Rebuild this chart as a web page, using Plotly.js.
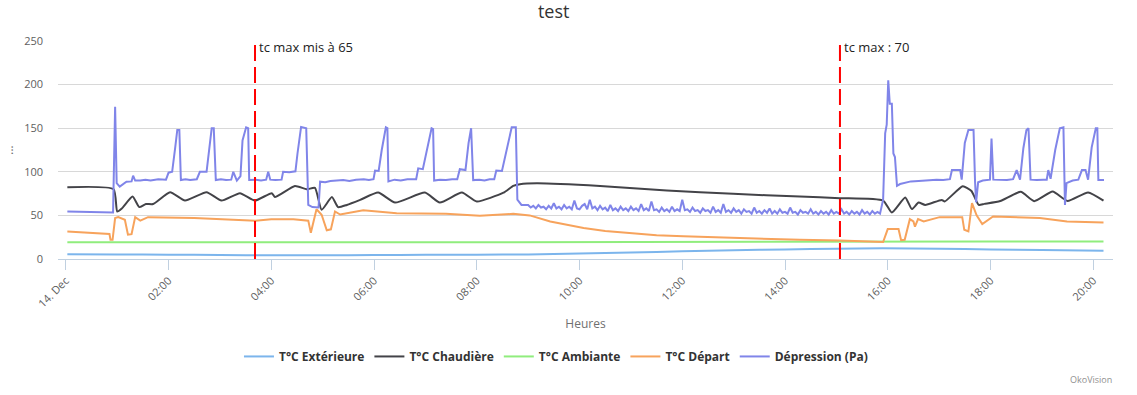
<!DOCTYPE html>
<html><head><meta charset="utf-8">
<script src="https://cdn.plot.ly/plotly-3.0.1.min.js"></script>
<style>html,body{margin:0;padding:0;background:#fff}#chart{width:1137px;height:395px}</style>
</head><body><div id="chart"></div>
<script>
// ---- axis ticks ----
const tickHours = [0, 2, 4, 6, 8, 10, 12, 14, 16, 18, 20];
const tickLabels = ["14. Dec", "02:00", "04:00", "06:00", "08:00", "10:00", "12:00", "14:00", "16:00", "18:00", "20:00"];
const yTicks = [0, 50, 100, 150, 200, 250];

// ---- series names / colours ----
const seriesNames = ["T°C Extérieure", "T°C Chaudière", "T°C Ambiante", "T°C Départ", "Dépression (Pa)"];
const seriesColors = ["#7cb5ec", "#434348", "#90ed7d", "#f7a35c", "#8085e9"];

// ---- T°C Extérieure ----
const exterieureHours = [0.03, 1, 2, 3, 4, 5, 6, 7, 8, 9, 10, 11, 12, 13, 14, 15, 15.9, 17, 18, 19, 20.2];
const exterieureValues = [5.5, 5.2, 5, 4.6, 4.3, 4.3, 4.5, 4.8, 5, 5.3, 6.3, 7.5, 8.8, 10, 11, 11.8, 12.3, 11.8, 11, 10.2, 9.6];

// ---- T°C Chaudière ----
const chaudiereHours = [0.03, 0.93, 1.00, 1.09, 1.30, 1.43, 1.56, 1.70, 2.03, 2.32, 2.74, 3.03, 3.39, 3.68, 4.01, 4.07, 4.46, 4.69, 4.85, 4.98, 5.18, 5.30, 5.47, 5.73, 6.08, 6.41, 6.99, 7.28, 7.71, 8.00, 8.52, 8.71, 8.84, 9.17, 10.40, 11.70, 12.99, 14.29, 15.07, 15.91, 16.08, 16.34, 16.47, 16.60, 16.73, 17.05, 17.11, 17.46, 17.63, 17.77, 17.88, 18.19, 18.59, 18.85, 19.21, 19.50, 19.90, 20.20];
const chaudiereValues = [82.3, 80, 54.5, 58, 71.6, 59.5, 63, 63, 76.6, 67, 76.6, 67, 75.5, 67, 75.5, 71, 83.8, 80, 81.5, 56.4, 71, 59.5, 62, 67.8, 76.2, 64.7, 76.2, 64.7, 76.2, 65.9, 76, 83.8, 85.8, 86.9, 83.8, 78.5, 74.7, 71.6, 69.8, 67, 53.3, 70.5, 57.2, 64.7, 62, 67.8, 66, 83.4, 78, 62, 63.2, 66.5, 77, 66.3, 77.3, 66.5, 76.4, 67];

// ---- T°C Ambiante ----
const ambianteHours = [0.03, 2, 4, 6, 8, 10, 12, 14, 16, 18, 20.2];
const ambianteValues = [19.3, 19, 19, 19.2, 19.3, 19.3, 19.5, 19.7, 19.8, 20, 20.2];

// ---- T°C Départ ----
const departHours = [0.03, 0.85, 0.87, 0.91, 0.96, 1.02, 1.15, 1.21, 1.28, 1.35, 1.45, 1.60, 2.50, 3.00, 3.69, 4.00, 4.43, 4.72, 4.77, 4.88, 4.98, 5.08, 5.16, 5.24, 5.34, 5.79, 6.44, 7.40, 8.06, 8.71, 9.03, 9.43, 9.75, 10.08, 10.5, 11.05, 11.5, 12.02, 13.00, 13.6, 14.29, 15.07, 15.91, 16.00, 16.21, 16.26, 16.33, 16.43, 16.50, 16.53, 16.59, 16.70, 17.01, 17.45, 17.49, 17.57, 17.64, 17.73, 17.84, 18.05, 18.96, 19.49, 20.20];
const departValues = [31.6, 28.6, 22, 22, 47, 48, 45, 28, 28.5, 48, 44, 48, 47, 46, 44, 45.5, 45.7, 44, 30, 57, 50.7, 33, 34, 54.5, 51, 56, 52.6, 51.8, 49.5, 51.8, 50, 43, 39, 35.5, 32, 29, 27.3, 26, 24, 23, 22, 21.3, 19.5, 34.3, 34.3, 21.5, 22, 45.7, 43, 37, 45.7, 43, 48, 48, 33.5, 31.6, 64, 50, 40, 48.7, 46.9, 43, 42];

// ---- Dépression (Pa) ----
const depressionHours = [
  0.03, 0.5, 0.92, 0.96, 0.99, 1.05, 1.10, 1.18, 1.28, 1.31, 1.35, 1.45, 1.55, 1.65, 1.80, 1.95,
  2.00, 2.07, 2.13, 2.17, 2.21, 2.24, 2.33, 2.42, 2.55, 2.61, 2.74, 2.80, 2.84, 2.88, 2.92,
  3.02, 3.12, 3.22, 3.26, 3.33, 3.40, 3.44, 3.51, 3.55, 3.57, 3.70, 3.80, 3.90, 3.94, 3.98,
  4.08, 4.20, 4.23, 4.35, 4.47, 4.51, 4.58, 4.68, 4.72, 4.80, 4.92, 4.95,
  5.05, 5.15, 5.28, 5.40, 5.52, 5.65, 5.80, 5.90, 5.99, 6.02, 6.09, 6.15, 6.23, 6.26, 6.28,
  6.40, 6.52, 6.65, 6.82, 6.86, 6.95, 7.03, 7.12, 7.15, 7.17, 7.28, 7.40, 7.52, 7.62, 7.67, 7.78, 7.84, 7.89, 7.93,
  8.05, 8.15, 8.25, 8.34, 8.38, 8.49, 8.58, 8.68, 8.76, 8.79, 8.87,
  9.00, 9.05, 9.10, 9.15, 9.20, 9.25, 9.30, 9.35, 9.40, 9.45, 9.50, 9.55, 9.60, 9.65, 9.70, 9.75, 9.80, 9.85, 9.90, 9.95,
  10.00, 10.05, 10.10, 10.15, 10.20, 10.25, 10.30, 10.35, 10.40, 10.45, 10.50, 10.55, 10.60, 10.65, 10.70, 10.75, 10.80, 10.85, 10.90, 10.95,
  11.00, 11.05, 11.10, 11.15, 11.20, 11.25, 11.30, 11.35, 11.40, 11.45, 11.50, 11.55, 11.60, 11.65, 11.70, 11.75, 11.80, 11.85, 11.90, 11.95,
  12.00, 12.05, 12.10, 12.15, 12.20, 12.25, 12.30, 12.35, 12.40, 12.45, 12.50, 12.55, 12.60, 12.65, 12.70, 12.75, 12.80, 12.85, 12.90, 12.95,
  13.00, 13.05, 13.10, 13.15, 13.20, 13.25, 13.30, 13.35, 13.40, 13.45, 13.50, 13.55, 13.60, 13.65, 13.70, 13.75, 13.80, 13.85, 13.90, 13.95,
  14.00, 14.05, 14.10, 14.15, 14.20, 14.25, 14.30, 14.35, 14.40, 14.45, 14.50, 14.55, 14.60, 14.65, 14.70, 14.75, 14.80, 14.85, 14.90, 14.95,
  15.00, 15.05, 15.10, 15.15, 15.20, 15.25, 15.30, 15.35, 15.40, 15.45, 15.50, 15.55, 15.60, 15.65, 15.70, 15.75, 15.80, 15.85,
  15.91, 15.95, 15.98, 16.01, 16.04, 16.08, 16.11, 16.14, 16.18, 16.24, 16.30, 16.45, 16.60, 16.80, 16.95, 17.08, 17.21,
  17.25, 17.41, 17.44, 17.50, 17.57, 17.67, 17.70, 17.72, 17.76, 17.85, 17.99, 18.02, 18.055, 18.20, 18.32, 18.44,
  18.51, 18.575, 18.64, 18.70, 18.74, 18.78, 18.90, 19.03, 19.095, 19.125, 19.17, 19.26, 19.35, 19.42, 19.45, 19.48,
  19.60, 19.71, 19.78, 19.85, 19.90, 19.97, 20.05, 20.08, 20.10, 20.21
];
const depressionValues = [
  54.5, 54, 53.3, 174.5, 87, 83, 85, 88.7, 89, 95.5, 89.9, 90, 91, 90, 91.5, 91,
  99, 100, 128, 148, 148, 90.5, 91.5, 90.5, 91.5, 100, 100, 130, 150, 150, 90.5,
  91.5, 90.5, 91, 100, 90, 95, 136, 151, 150, 90.7, 91, 90, 91, 100, 91,
  90.5, 91, 100, 99.5, 100.5, 121, 151.5, 150, 62, 59.5, 59, 88.7,
  88, 89.5, 90, 90.5, 89.5, 91, 91.5, 90.5, 91.5, 101.4, 101, 125, 151, 150, 89,
  91, 90, 91.5, 91.5, 104, 103, 125, 150, 149, 90, 91, 90.5, 91.5, 91.5, 103, 102, 133, 150, 90.5,
  91, 90, 91.5, 91.5, 101.4, 101, 125, 151, 151, 68, 62,
  62, 59, 61, 58, 62, 59, 60, 57, 61, 58, 64, 58, 60, 57, 62, 58, 60, 57, 67, 58,
  57, 61, 63, 57, 68, 58, 60, 56, 61, 57, 59, 55, 62, 56, 58, 55, 60, 56, 58, 55,
  60, 56, 58, 55, 63, 56, 58, 55, 66, 56, 57, 54, 59, 55, 57, 54, 60, 55, 57, 55,
  68, 56, 57, 54, 59, 55, 56, 53, 58, 55, 56, 53, 60, 54, 56, 53, 63, 54, 56, 53,
  58, 54, 56, 52, 57, 54, 55, 52, 59, 53, 55, 52, 56, 53, 58, 52, 55, 52, 57, 53,
  54, 52, 59, 53, 54, 51, 56, 53, 54, 52, 57, 52, 54, 51, 55, 52, 54, 51, 56, 52,
  54, 52, 57, 52, 54, 51, 55, 52, 54, 51, 56, 52, 54, 51, 55, 52, 54, 52,
  68, 144, 154, 205, 178, 178, 121, 117, 84, 86, 87, 89, 89.5, 90.5, 91, 90.5, 91.5,
  102, 102, 91, 133, 148, 148, 88, 65, 88, 90, 91, 138, 91, 91, 90.5, 91.5,
  102, 91, 127, 148, 150, 91, 90.5, 91, 91, 102, 92, 125, 150, 151, 62, 87,
  90, 91, 102, 102, 91, 128, 150, 150, 90.7, 90.7
];

// ---- vertical event markers ----
const eventHours = [3.683, 15.07];
const eventLabels = ["tc max mis à 65", "tc max : 70"];

const hoursList = [exterieureHours, chaudiereHours, ambianteHours, departHours, depressionHours];
const valuesList = [exterieureValues, chaudiereValues, ambianteValues, departValues, depressionValues];
const shapesList = ["spline", "spline", "linear", "linear", "linear"];

const traces = seriesNames.map((name, i) => ({
  type: "scatter",
  mode: "lines",
  name: name,
  x: hoursList[i],
  y: valuesList[i],
  line: { color: seriesColors[i], width: 2, shape: shapesList[i], smoothing: 0.5 },
  hoverinfo: "skip"
}));

const shapes = eventHours.map(h => ({
  type: "line", xref: "x", yref: "paper",
  x0: h, x1: h, y0: 0, y1: 1,
  line: { color: "#ff0000", width: 2, dash: "16px,6px" },
  layer: "above"
}));

const annotations = eventHours.map((h, i) => ({
  xref: "x", yref: "paper", x: h, y: 1,
  text: eventLabels[i], showarrow: false,
  xanchor: "left", yanchor: "middle", xshift: 2, yshift: -6,
  font: { size: 13, color: "#222222" }
}));
annotations.push({
  xref: "paper", yref: "paper", x: 1.0009, y: -0.552,
  xanchor: "right", yanchor: "middle", showarrow: false,
  text: "OkoVision", font: { size: 9, color: "#909090" }
});

const layout = {
  width: 1137, height: 395,
  margin: { l: 58, r: 24, t: 41, b: 136 },
  paper_bgcolor: "#ffffff", plot_bgcolor: "#ffffff",
  font: { family: '"Open Sans", sans-serif', color: "#333333" },
  title: {
    text: "test", font: { size: 18, color: "#333333" },
    xref: "container", x: 0.487, xanchor: "center",
    yref: "container", y: 0.9696, yanchor: "middle"
  },
  xaxis: {
    range: [-0.152, 20.385],
    tickvals: tickHours, ticktext: tickLabels, tickangle: -45,
    ticks: "outside", ticklen: 10, tickwidth: 1, tickcolor: "#C0D0E0",
    showline: true, linecolor: "#C0D0E0", linewidth: 1,
    showgrid: false, zeroline: false,
    tickfont: { size: 11, color: "#606060" },
    title: { text: "Heures", font: { size: 12, color: "#707070" }, standoff: 10 },
    automargin: false, fixedrange: true
  },
  yaxis: {
    range: [0, 250], tickvals: yTicks,
    showgrid: true, gridcolor: "#D8D8D8", gridwidth: 1,
    zeroline: false, showline: false, ticks: "",
    ticklabelstandoff: 14,
    tickfont: { size: 11, color: "#606060" },
    title: { text: "...", font: { size: 12, color: "#707070" }, standoff: 8 },
    automargin: false, fixedrange: true
  },
  showlegend: true,
  legend: {
    orientation: "h", x: 0.472, xanchor: "center", y: -0.447, yanchor: "middle",
    font: { size: 12, color: "#333333", weight: "bold" },
    bgcolor: "rgba(0,0,0,0)"
  },
  shapes: shapes,
  annotations: annotations
};

Plotly.newPlot("chart", traces, layout, { staticPlot: true, displayModeBar: false });
</script>
</body></html>
